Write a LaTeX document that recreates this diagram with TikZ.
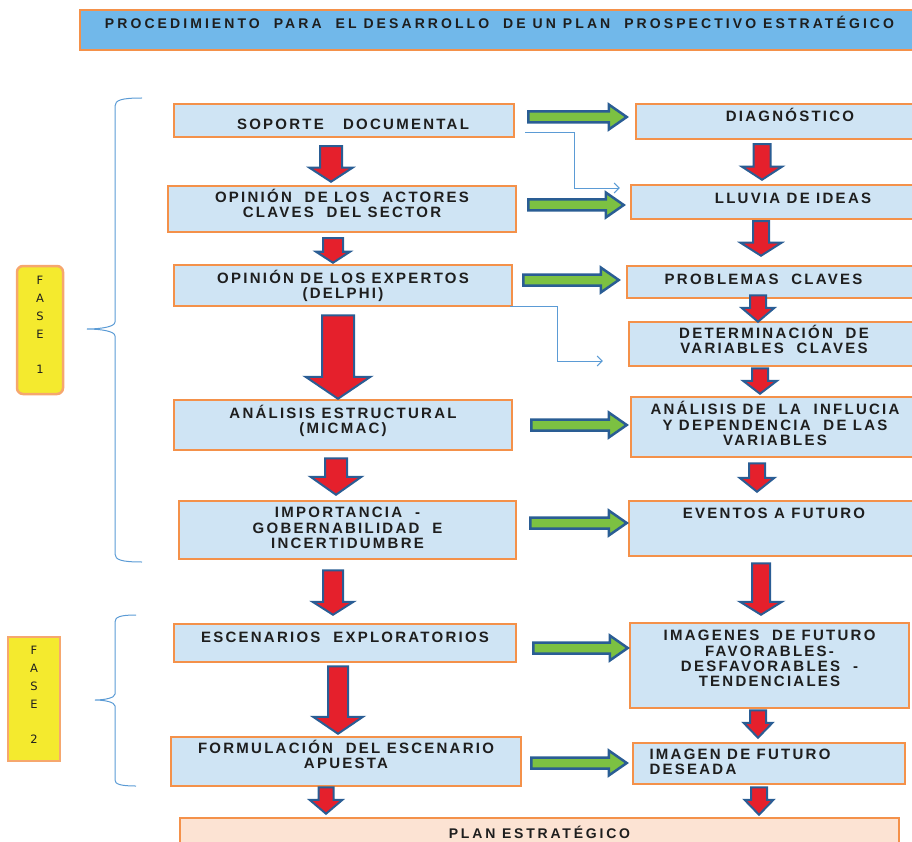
\documentclass[tikz,border=0pt]{standalone}
\usepackage{fontspec}
\setmainfont{Liberation Sans}
\newfontfamily\boxfont[LetterSpace=15]{Liberation Sans}
\newfontfamily\titlefont[LetterSpace=22]{Liberation Sans}
\newfontfamily\planfont[LetterSpace=20]{Liberation Sans}
\newfontfamily\fasefont{DejaVu Sans}
\usetikzlibrary{arrows.meta, calc}
\definecolor{boxblue}{HTML}{CFE4F4}
\definecolor{boxorange}{HTML}{F4914A}
\definecolor{titleblue}{HTML}{71B8EA}
\definecolor{planfill}{HTML}{FCE3D3}
\definecolor{faseyellow}{HTML}{F4EA2E}
\definecolor{arrred}{HTML}{E5202C}
\definecolor{arrblue}{HTML}{2A5D94}
\definecolor{arrgreen}{HTML}{7CC142}
\definecolor{linkblue}{HTML}{5B9BD5}
\definecolor{inktext}{HTML}{1E1E1E}
\tikzset{
  stepbox/.style={rectangle, draw=boxorange, line width=2.5pt, fill=boxblue, align=center, inner sep=2pt, text=inktext, font=\boxfont\bfseries\fontsize{15}{15.3}\selectfont},
  titlebox/.style={stepbox, fill=titleblue, font=\titlefont\bfseries\fontsize{14}{16}\selectfont},
  planbox/.style={stepbox, fill=planfill, font=\planfont\bfseries\fontsize{14}{16}\selectfont},
  fasebox/.style={rectangle, draw=boxorange!80, line width=2.5pt, fill=faseyellow, align=center, inner sep=2pt, text=inktext, font=\fasefont\fontsize{11.5}{18}\selectfont},
  nudge/.style 2 args={text height=#1, text depth=#2},
  redarr/.style n args={3}{draw=arrblue, fill=arrred, line width=2pt, line join=miter,
    to path={let \p1=(\tikztostart), \p2=(\tikztotarget) in
      (\x1-#1,\y1) -- (\x1+#1,\y1) -- (\x1+#1,\y2+#3) -- (\x1+#2,\y2+#3) -- (\x1,\y2)
      -- (\x1-#2,\y2+#3) -- (\x1-#1,\y2+#3) -- cycle}},
  greenarr/.style={draw=arrblue, fill=arrgreen, line width=2.5pt, line join=miter,
    to path={let \p1=(\tikztostart), \p2=(\tikztotarget) in
      (\x1,\y1+5.5pt) -- (\x2-18pt,\y1+5.5pt) -- (\x2-18pt,\y1+12.5pt) -- (\x2,\y1)
      -- (\x2-18pt,\y1-12.5pt) -- (\x2-18pt,\y1-5.5pt) -- (\x1,\y1-5.5pt) -- cycle}},
  linkarr/.style={draw=linkblue, line width=0.9pt, -{Straight Barb[length=5pt,width=10pt]}},
  bracestyle/.style={draw=linkblue, line width=1pt},
}
\begin{document}
\begin{tikzpicture}[x=1pt, y=-1pt]
  \useasboundingbox (0,0) rectangle (912,842);
  \clip (0,0) rectangle (912,842);

  % title
  \node[titlebox, minimum width=839pt, minimum height=40pt, nudge={10.5pt}{14pt}] (title) at (499.5,30) {PROCEDIMIENTO\ \ PARA\ \ EL DESARROLLO\ \ DE UN PLAN\ \ PROSPECTIVO ESTRATÉGICO};

  % left column
  \node[stepbox, minimum width=340pt, minimum height=33pt, nudge={17.5pt}{0pt}] (soporte) at (344,120.5) {\hspace*{18pt}SOPORTE\ \ \ DOCUMENTAL};
  \node[stepbox, minimum width=348pt, minimum height=46pt, nudge={25.8pt}{8pt}] (actores) at (342,209) {OPINIÓN\ \ DE LOS\ \ ACTORES\\CLAVES\ \ DEL SECTOR};
  \node[stepbox, minimum width=338pt, minimum height=41pt, nudge={25.8pt}{0pt}] (expertos) at (343,285.5) {OPINIÓN DE LOS EXPERTOS\\(DELPHI)};
  \node[stepbox, minimum width=338pt, minimum height=50pt, nudge={25.8pt}{9pt}] (estructural) at (343,425) {ANÁLISIS ESTRUCTURAL\\(MICMAC)};
  \node[stepbox, minimum width=337pt, minimum height=58pt, nudge={41.1pt}{4pt}] (importancia) at (347.5,530) {IMPORTANCIA\ \ -\\GOBERNABILIDAD\ \ E\\INCERTIDUMBRE};
  \node[stepbox, minimum width=342pt, minimum height=38pt, nudge={10.5pt}{12pt}] (escenarios) at (345,643) {ESCENARIOS\ \ EXPLORATORIOS};
  \node[stepbox, minimum width=350pt, minimum height=49pt, nudge={25.8pt}{11pt}] (formulacion) at (346,761.5) {FORMULACIÓN\ \ DEL ESCENARIO\\APUESTA};

  % right column
  \node[stepbox, minimum width=283pt, minimum height=35pt, nudge={10.5pt}{11pt}] (diag) at (777.5,121.5) {\hspace*{25pt}DIAGNÓSTICO};
  \node[stepbox, minimum width=288pt, minimum height=34pt, nudge={10.5pt}{8pt}] (lluvia) at (775,202) {\hspace*{36pt}LLUVIA DE IDEAS};
  \node[stepbox, minimum width=292pt, minimum height=32pt, nudge={10.5pt}{6pt}] (problemas) at (773,282) {PROBLEMAS\ \ CLAVES\hspace*{19pt}};
  \node[stepbox, minimum width=290pt, minimum height=44pt, nudge={25.8pt}{6pt}] (determinacion) at (774,344) {DETERMINACIÓN\ \ DE\\VARIABLES\ \ CLAVES};
  \node[stepbox, minimum width=288pt, minimum height=60pt, nudge={41.1pt}{4pt}] (influcia) at (775,427) {ANÁLISIS DE\ \ LA\ \ INFLUCIA\\Y DEPENDENCIA\ \ DE LAS\\VARIABLES};
  \node[stepbox, minimum width=290pt, minimum height=55pt, nudge={10.5pt}{31pt}] (eventos) at (774,528.5) {EVENTOS A FUTURO};
  \node[stepbox, minimum width=279pt, minimum height=85pt, nudge={56.4pt}{14pt}] (imagenes) at (769.5,665.5) {IMAGENES\ \ DE FUTURO\\FAVORABLES-\\DESFAVORABLES\ \ -\\TENDENCIALES};
  \node[stepbox, align=left, minimum width=272pt, minimum height=41pt, nudge={25.8pt}{4pt}] (deseada) at (769,763.5) {IMAGEN DE FUTURO\hspace*{58pt}\\DESEADA};

  % final box
  \node[planbox, minimum width=719pt, minimum height=28pt] (plan) at (539.5,832) {PLAN ESTRATÉGICO};

  % phases
  \node[fasebox, rounded corners=6pt, minimum width=46pt, minimum height=128pt, nudge={97.4pt}{10pt}] (fase1) at (40,330) {F\\A\\S\\E\\[17pt]1};
  \node[fasebox, minimum width=52pt, minimum height=124pt, nudge={97.4pt}{8pt}] (fase2) at (34,699) {F\\A\\S\\E\\[17pt]2};

  % braces
  \draw[bracestyle] (142,98) .. controls (122,98) and (115,100) .. (115,106) -- (115,322)
    .. controls (115,327) and (100,329) .. (87,329) .. controls (100,329) and (115,331) .. (115,336)
    -- (115,554) .. controls (115,560) and (122,562) .. (142,562);
  \draw[bracestyle] (136,615) .. controls (120,615) and (115,617) .. (115,622) -- (115,694)
    .. controls (115,698) and (104,700) .. (95,700) .. controls (104,700) and (115,702) .. (115,706)
    -- (115,780) .. controls (115,784) and (120,786) .. (136,786);

  % red arrows, left column
  \draw[redarr={11pt}{21.5pt}{14pt}] ([xshift=-13pt,yshift=-8pt]soporte.south) to ([yshift=3pt]actores.north);
  \draw[redarr={10pt}{17pt}{11pt}] ([xshift=-9pt,yshift=-5pt]actores.south) to ([yshift=1pt]expertos.north);
  \draw[redarr={16pt}{32.5pt}{22pt}] ([xshift=-5pt,yshift=-8pt]expertos.south) to (estructural.north);
  \draw[redarr={11pt}{25.5pt}{18pt}] ([xshift=-7pt,yshift=-7pt]estructural.south) to ([yshift=5pt]importancia.north);
  \draw[redarr={10pt}{20.5pt}{13pt}] ([xshift=-14.5pt,yshift=-10pt]importancia.south) to ([yshift=8pt]escenarios.north);
  \draw[redarr={10pt}{25pt}{17pt}] ([xshift=-7pt,yshift=-3pt]escenarios.south) to ([yshift=2pt]formulacion.north);
  \draw[redarr={7.5pt}{16.5pt}{14pt}] ([xshift=-20pt]formulacion.south) to ([yshift=3pt]plan.north);

  % red arrows, right column
  \draw[redarr={8.5pt}{20pt}{13pt}] ([xshift=-15.5pt,yshift=-4pt]diag.south) to ([yshift=4pt]lluvia.north);
  \draw[redarr={8pt}{20.5pt}{13pt}] ([xshift=-14pt,yshift=-1pt]lluvia.south) to ([yshift=9pt]problemas.north);
  \draw[redarr={8pt}{16.5pt}{14pt}] ([xshift=-15pt,yshift=4pt]problemas.south) to ([yshift=-1pt]determinacion.north);
  \draw[redarr={8pt}{17pt}{13pt}] ([xshift=-14pt,yshift=-1pt]determinacion.south) to ([yshift=2pt]influcia.north);
  \draw[redarr={8pt}{17.5pt}{14pt}] ([xshift=-18pt,yshift=-5pt]influcia.south) to ([yshift=8pt]eventos.north);
  \draw[redarr={9pt}{21pt}{13pt}] ([xshift=-13pt,yshift=-6pt]eventos.south) to ([yshift=7pt]imagenes.north);
  \draw[redarr={8pt}{14.5pt}{15pt}] ([xshift=-11.5pt,yshift=-1pt]imagenes.south) to ([yshift=4pt]deseada.north);
  \draw[redarr={8pt}{14.5pt}{15pt}] ([xshift=-10pt,yshift=-2pt]deseada.south) to ([yshift=2pt]plan.north);

  % green arrows
  \draw[greenarr] ([xshift=13pt,yshift=3.5pt]soporte.east) to ([xshift=-8pt]diag.west);
  \draw[greenarr] ([xshift=11pt,yshift=4pt]actores.east) to ([xshift=-6pt]lluvia.west);
  \draw[greenarr] ([xshift=10pt,yshift=5.5pt]expertos.east) to ([xshift=-7pt]problemas.west);
  \draw[greenarr] ([xshift=18pt]estructural.east) to ([xshift=-3pt]influcia.west);
  \draw[greenarr] ([xshift=13pt,yshift=7pt]importancia.east) to ([xshift=-1pt]eventos.west);
  \draw[greenarr] ([xshift=16pt,yshift=-5pt]escenarios.east) to ([xshift=-1pt]imagenes.west);
  \draw[greenarr] ([xshift=9pt,yshift=-1.5pt]formulacion.east) to ([xshift=-5pt]deseada.west);

  % thin links
  \draw[linkarr] ([xshift=10pt,yshift=-11.5pt]soporte.east) -- ++(49pt,0pt) |- ([xshift=-10pt,yshift=14pt]lluvia.west);
  \draw[linkarr] ([xshift=-3pt,yshift=1pt]expertos.south east) -- ++(47pt,0pt) |- ([xshift=-25pt,yshift=-17pt]determinacion.west);
\end{tikzpicture}
\end{document}
